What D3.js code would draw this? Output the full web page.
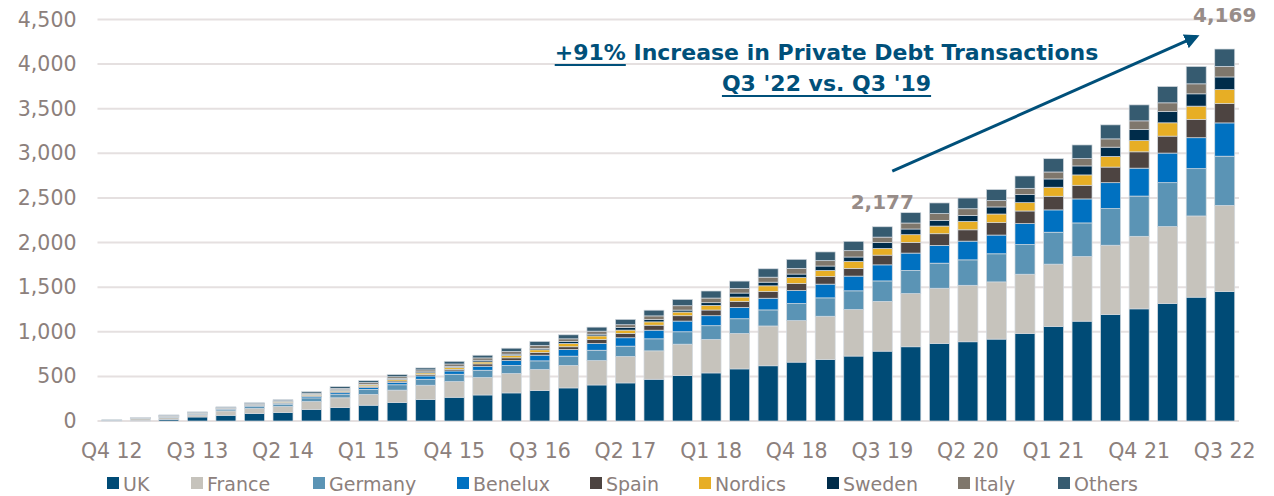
<!DOCTYPE html>
<html>
<head>
<meta charset="utf-8">
<script src="https://cdn.jsdelivr.net/npm/d3@7"></script>
<style>
  html, body { margin: 0; padding: 0; background: #ffffff; }
  svg { display: block; font-family: "DejaVu Sans", Verdana, sans-serif; }
</style>
</head>
<body>
<svg id="chart" width="1274" height="496"></svg>
<script>
// ---------------- DATA ----------------
const quarters = [
  "Q4 12","Q1 13","Q2 13","Q3 13","Q4 13","Q1 14","Q2 14","Q3 14","Q4 14","Q1 15",
  "Q2 15","Q3 15","Q4 15","Q1 16","Q2 16","Q3 16","Q4 16","Q1 17","Q2 17","Q3 17",
  "Q4 17","Q1 18","Q2 18","Q3 18","Q4 18","Q1 19","Q2 19","Q3 19","Q4 19","Q1 20",
  "Q2 20","Q3 20","Q4 20","Q1 21","Q2 21","Q3 21","Q4 21","Q1 22","Q2 22","Q3 22"
];
const tickLabels = ["Q4 12","Q3 13","Q2 14","Q1 15","Q4 15","Q3 16","Q2 17","Q1 18","Q4 18","Q3 19","Q2 20","Q1 21","Q4 21","Q3 22"];
const yTicks = [0, 500, 1000, 1500, 2000, 2500, 3000, 3500, 4000, 4500];
const seriesNames = ["UK","France","Germany","Benelux","Spain","Nordics","Sweden","Italy","Others"];

const uk      = [2,3,19,45,64,83,94,128,151,177,207,240,266,292,315,341,371,404,427,468,509,539,584,619,660,690,728,783,832,870,888,918,981,1060,1119,1194,1257,1317,1388,1450];
const france  = [5,22,23,23,49,57,68,90,109,121,139,161,176,195,217,236,251,273,296,318,352,375,397,446,465,484,521,558,596,618,633,641,664,698,724,776,813,862,910,966];
const germany = [3,4,8,11,19,26,26,41,41,57,60,67,82,82,90,97,105,116,116,135,139,154,165,180,191,206,210,229,259,281,285,315,332,358,377,410,451,492,530,552];
const benelux = [1,2,3,3,5,8,11,15,17,19,27,37,37,45,56,64,75,75,94,97,120,112,127,131,146,154,165,180,195,199,210,210,235,250,269,291,313,332,347,373];
const spain   = [0,1,2,3,4,5,7,9,12,15,15,15,19,26,30,30,30,45,49,56,60,64,67,75,79,86,86,109,120,131,127,139,142,153,153,175,183,190,205,216];
const nordics = [0,1,3,4,4,6,8,11,14,15,19,19,22,22,26,30,37,41,37,37,41,52,49,64,68,68,79,75,86,86,94,97,93,101,116,119,127,149,149,157];
const sweden  = [0,1,1,2,2,3,4,6,7,8,10,12,11,19,15,15,22,19,30,26,22,30,45,41,38,49,49,67,64,64,67,79,90,93,101,104,123,127,138,142];
const italy   = [0,2,4,5,5,7,9,12,15,18,19,22,26,26,30,34,30,34,30,41,49,52,52,56,64,60,71,60,67,75,75,71,71,78,82,93,97,97,112,119];
const others  = [1,3,5,6,6,9,11,16,19,22,24,22,30,30,37,45,45,45,60,64,71,79,82,94,101,98,105,116,116,120,120,124,138,149,153,157,179,183,194,194];

const titleLine1a = "+91%";
const titleLine1b = " Increase in Private Debt Transactions";
const titleLine2 = "Q3 '22 vs. Q3 '19";
const highlightFrom = "Q3 19";
const highlightTo = "Q3 22";

// ---------------- STYLE / LAYOUT ----------------
const colors = ["#004b76","#c6c3bc","#5b94b5","#0071c1","#4d4441","#e7ae25","#002c4a","#7f776c","#365b70"];
const textGray = "#8c807c";
const labelGray = "#978c88";
const navy = "#00507a";
const margin = { left: 97.5, right: 1239, top: 19.5, bottom: 421 };
const legendX = [107, 191, 313, 457, 590, 699, 827, 958, 1058];
const labelOffsets = [18, 27];

const svg = d3.select("#chart");
svg.append("rect").attr("width", 1274).attr("height", 496).attr("fill", "#fff");

const seriesArrays = [uk, france, germany, benelux, spain, nordics, sweden, italy, others];
const table = quarters.map((q, i) => {
  const row = { q };
  seriesNames.forEach((s, k) => row[s] = seriesArrays[k][i]);
  return row;
});

const x = d3.scaleBand().domain(quarters).range([margin.left, margin.right]).paddingInner(0.3).paddingOuter(0.15);
const y = d3.scaleLinear().domain([0, 4500]).range([margin.bottom, margin.top]);

// gridlines
svg.append("g").selectAll("line").data(yTicks).join("line")
  .attr("x1", margin.left).attr("x2", margin.right)
  .attr("y1", d => y(d)).attr("y2", d => y(d))
  .attr("stroke", "#e5e0e0").attr("stroke-width", 2);

// y axis
const yAxis = svg.append("g").attr("transform", `translate(${margin.left},0)`)
  .call(d3.axisLeft(y).tickValues(yTicks).tickFormat(d3.format(",")).tickSize(0).tickPadding(21));
yAxis.select(".domain").remove();
yAxis.selectAll("text").attr("fill", textGray).style("font-size", "20.5px").style("font-family", "DejaVu Sans");

// x axis
const xAxis = svg.append("g").attr("transform", `translate(0,${margin.bottom})`)
  .call(d3.axisBottom(x).tickValues(tickLabels).tickSize(0));
xAxis.select(".domain").remove();
xAxis.selectAll("text").attr("fill", textGray).attr("y", 37).attr("dy", 0)
  .style("font-size", "20.5px").style("font-family", "DejaVu Sans");

// stacked bars
const stack = d3.stack().keys(seriesNames)(table);
svg.append("g").selectAll("g").data(stack).join("g")
  .attr("fill", (d, i) => colors[i])
  .selectAll("rect").data(d => d).join("rect")
  .attr("x", d => x(d.data.q))
  .attr("width", x.bandwidth())
  .attr("y", d => y(d[1]))
  .attr("height", d => Math.max(0, y(d[0]) - y(d[1])))
  .attr("stroke", "#d3d9df").attr("stroke-width", 0.7);

// total labels
const totals = quarters.map((q, i) => d3.sum(seriesArrays, a => a[i]));
[highlightFrom, highlightTo].forEach((q, k) => {
  const i = quarters.indexOf(q);
  svg.append("text")
    .attr("x", x(q) + x.bandwidth() / 2)
    .attr("y", y(totals[i]) - labelOffsets[k])
    .attr("text-anchor", "middle")
    .attr("fill", labelGray)
    .style("font-size", "20px").style("font-weight", "bold")
    .text(d3.format(",")(totals[i]));
});

// arrow
svg.append("defs").append("marker")
  .attr("id", "arr").attr("viewBox", "0 0 10 10").attr("refX", 8).attr("refY", 5)
  .attr("markerWidth", 5).attr("markerHeight", 5).attr("orient", "auto")
  .append("path").attr("d", "M0,0 L10,5 L0,10 z").attr("fill", navy);
const ax1 = x(highlightFrom) + x.bandwidth() / 2 + 10;
const ax2 = x(highlightTo) + x.bandwidth() / 2 - 28;
svg.append("line")
  .attr("x1", ax1).attr("y1", y(2800))
  .attr("x2", ax2).attr("y2", y(4310))
  .attr("stroke", navy).attr("stroke-width", 3)
  .attr("marker-end", "url(#arr)");

// title annotation
const cx = 826.5;
const t1 = svg.append("text").attr("x", cx).attr("y", 59.5).attr("text-anchor", "middle")
  .attr("fill", navy).style("font-size", "22px").style("font-weight", "bold");
t1.append("tspan").text(titleLine1a);
t1.append("tspan").text(titleLine1b);
const t2 = svg.append("text").attr("x", cx).attr("y", 90.5).attr("text-anchor", "middle")
  .attr("fill", navy).style("font-size", "22px").style("font-weight", "bold")
  .text(titleLine2);
const b1 = t1.node().getBBox();
const subLen = t1.node().getSubStringLength(0, titleLine1a.length);
svg.append("line").attr("x1", b1.x).attr("x2", b1.x + subLen)
  .attr("y1", 65).attr("y2", 65).attr("stroke", navy).attr("stroke-width", 2.2);
const b2 = t2.node().getBBox();
svg.append("line").attr("x1", b2.x).attr("x2", b2.x + b2.width)
  .attr("y1", 96).attr("y2", 96).attr("stroke", navy).attr("stroke-width", 2.2);

// legend
const lg = svg.append("g");
seriesNames.forEach((s, i) => {
  lg.append("rect").attr("x", legendX[i]).attr("y", 477).attr("width", 12).attr("height", 12).attr("fill", colors[i]);
  lg.append("text").attr("x", legendX[i] + 16).attr("y", 490.5)
    .attr("fill", textGray).style("font-size", "19px").text(s);
});
</script>
</body>
</html>
